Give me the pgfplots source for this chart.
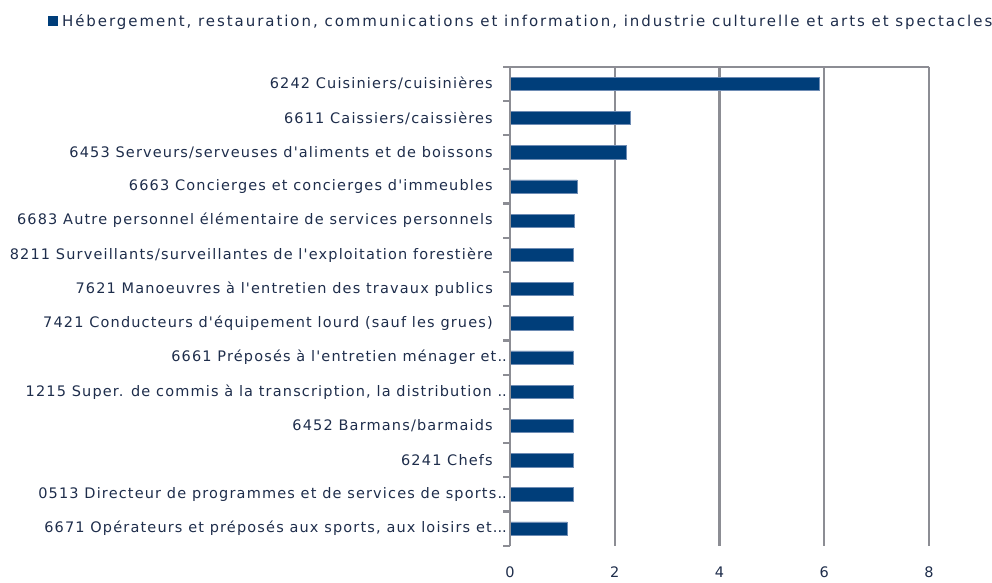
\documentclass[border=0pt]{standalone}
\usepackage{fontspec}
\setmainfont{DejaVu Sans}[LetterSpace=8, Ligatures=TeXOff]
\newfontfamily\legfont{DejaVu Sans}[LetterSpace=13, Ligatures=TeXOff]
\usepackage{pgfplots}
\pgfplotsset{compat=1.18}
\definecolor{barblue}{RGB}{0,62,122}
\definecolor{baredge}{RGB}{110,140,180}
\definecolor{axgray}{RGB}{140,141,148}
\definecolor{txt}{RGB}{30,45,75}
\newcommand{\tsp}{\kern14pt}
\newcommand{\dd}{.\kern0pt.}
\newcommand{\ddd}{.\kern0pt.\kern0pt.}
\begin{document}
\begin{tikzpicture}
\path[use as bounding box] (0pt,0pt) rectangle (992pt,582pt);
\begin{axis}[
  at={(510pt,36.3pt)}, anchor=south west,
  scale only axis, width=419pt, height=479pt,
  xmin=0, xmax=8, ymin=-0.5, ymax=13.5,
  y dir=reverse,
  xbar, bar width=13.3pt, bar shift=0pt,
  xtick={0,2,4,6,8},
  ytick={0,1,2,3,4,5,6,7,8,9,10,11,12,13},
  minor ytick={-0.5,0.5,1.5,2.5,3.5,4.5,5.5,6.5,7.5,8.5,9.5,10.5,11.5,12.5,13.5},
  yticklabels={
    {6242 Cuisiniers/cuisinières\tsp},
    {6611 Caissiers/caissières\tsp},
    {6453 Serveurs/serveuses d'aliments et de boissons\tsp},
    {6663 Concierges et concierges d'immeubles\tsp},
    {6683 Autre personnel élémentaire de services personnels\tsp},
    {8211 Surveillants/surveillantes de l'exploitation forestière\tsp},
    {7621 Manoeuvres à l'entretien des travaux publics\tsp},
    {7421 Conducteurs d'équipement lourd (sauf les grues)\tsp},
    {6661 Préposés à l'entretien ménager et\dd},
    {1215 Super. de commis à la transcription, la distribution \dd},
    {6452 Barmans/barmaids\tsp},
    {6241 Chefs\tsp},
    {0513 Directeur de programmes et de services de sports\dd},
    {6671 Opérateurs et préposés aux sports, aux loisirs et\ddd}
  },
  major tick length=0pt, minor tick length=7pt, tick align=outside,
  ytick pos=left, xtick pos=bottom,
  every tick/.append style={draw=axgray, line width=2.2pt},
  every minor tick/.append style={draw=axgray, line width=2.2pt},
  x tick style={draw=none},
  axis line style={draw=none},
  xmajorgrids,
  major grid style={draw=axgray, line width=2.2pt},
  /pgf/number format/assume math mode=true,
  ticklabel style={font=\fontsize{14.5}{16}\selectfont, text=txt},
  yticklabel style={anchor=east, inner sep=3pt},
  xticklabel style={anchor=center, text height=10.5pt, text depth=0pt, yshift=-27pt},
  legend style={at={(axis description cs:-1.102,1.095)}, anchor=west, draw=none, fill=none, inner sep=0pt,
    font=\legfont\fontsize{15}{16}\selectfont, text=txt},
  legend image code/.code={\fill[barblue] (0pt,-4.5pt) rectangle (9pt,4.5pt);},
]
\addplot[fill=barblue, draw=baredge, line width=0.6pt] coordinates {
  (5.90,0) (2.30,1) (2.23,2) (1.28,3) (1.23,4) (1.21,5) (1.21,6)
  (1.21,7) (1.21,8) (1.21,9) (1.21,10) (1.21,11) (1.21,12) (1.09,13)
};
\addlegendentry{\kern2pt Hébergement, restauration, communications et information, industrie culturelle et arts et spectacles}
\draw[axgray, line width=2.2pt] (axis description cs:0,0) -- (axis description cs:0,1) -- (axis description cs:1,1);
\end{axis}
\end{tikzpicture}
\end{document}
